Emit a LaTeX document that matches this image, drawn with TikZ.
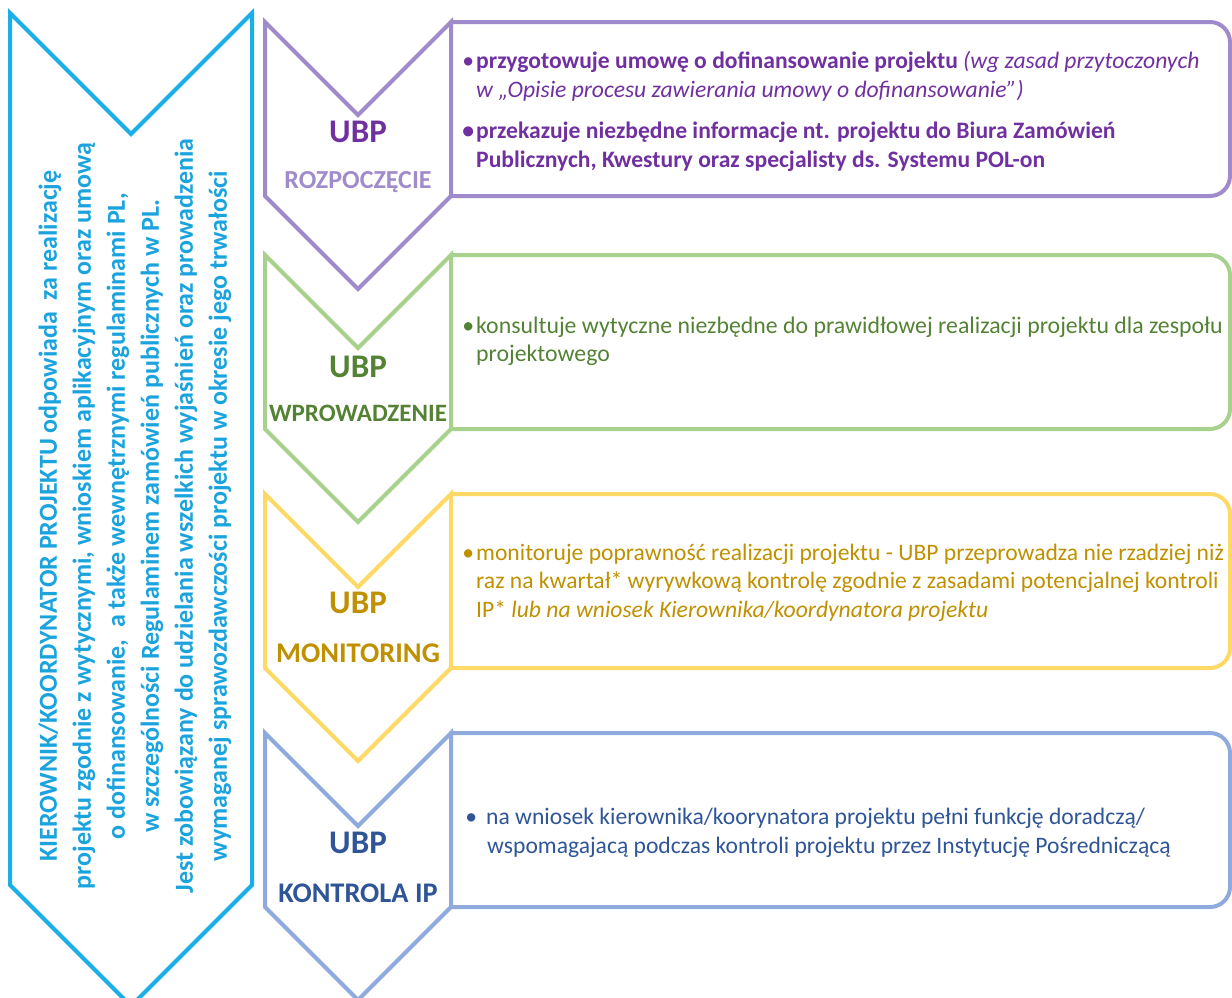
\documentclass[tikz,border=0pt]{standalone}
\usepackage{fontspec}
\setmainfont{Carlito}
\definecolor{purpleLine}{HTML}{9F8BCB}
\definecolor{purpleText}{HTML}{7030A0}
\definecolor{purpleSoft}{HTML}{A08CCB}
\definecolor{greenLine}{HTML}{A9D18E}
\definecolor{greenText}{HTML}{548235}
\definecolor{yellowLine}{HTML}{FFD966}
\definecolor{yellowText}{HTML}{BF9000}
\definecolor{blueLine}{HTML}{8FAADC}
\definecolor{blueText}{HTML}{2F5597}
\definecolor{cyanLine}{HTML}{1AAFE9}
\definecolor{cyanText}{HTML}{1BA3DE}
% one stage: box with rounded right corners + chevron on its left
% #1 = top y, #2 = line colour
\newcommand{\stageshape}[2]{%
  \draw[outline,#2] (451,#1) -- (1210,#1) arc (270:360:20)
        -- (1230,#1+154) arc (0:90:20) -- (451,#1+174);
  \draw[outline,#2] (265,#1) -- (358,#1+93) -- (451,#1) -- (451,#1+174)
        -- (358,#1+267) -- (265,#1+174) -- cycle;
}
\newcommand{\bodysize}{\fontsize{23.6}{28}\selectfont}
\begin{document}
\begin{tikzpicture}[x=1pt,y=-1pt,
  outline/.style={line width=4pt,line join=miter},
  ubp/.style={anchor=base,inner sep=0pt,font=\bfseries\fontsize{33}{33}\selectfont},
  stagename/.style={anchor=base,inner sep=0pt,font=\bfseries\fontsize{#1}{#1}\selectfont},
  body/.style={anchor=base west,inner sep=0pt,font=\bodysize},
]
\useasboundingbox (0,0) rectangle (1232,997);
\clip (0,0) rectangle (1232,997);

% left column: responsibilities of the project manager
\draw[outline,cyanLine] (10,13) -- (131,134) -- (252,13) -- (252,885)
      -- (131,1006) -- (10,885) -- cycle;
\node[rotate=90,align=center,inner sep=0pt,text=cyanText,
      font=\bfseries\fontsize{26}{34}\selectfont] (lead) at (135,516)
  {KIEROWNIK/KOORDYNATOR PROJEKTU odpowiada\ \ za realizację\\
   projektu zgodnie z wytycznymi, wnioskiem aplikacyjnym oraz umową\\
   o dofinansowanie,\ \ a także wewnętrznymi regulaminami PL,\\
   w szczególności Regulaminem zamówień publicznych w PL.\\
   Jest zobowiązany do udzielania wszelkich wyjaśnień oraz prowadzenia\\
   wymaganej sprawozdawczości projektu w okresie jego trwałości};

% stage outlines
\stageshape{22}{purpleLine}
\stageshape{255}{greenLine}
\stageshape{494}{yellowLine}
\stageshape{733}{blueLine}

% stage 1
\node[ubp,text=purpleText] (ubp1) at (358,142) {UBP};
\node[stagename=26,text=purpleSoft] (st1) at (358,188) {ROZPOCZĘCIE};
\node[body,text=purpleText] (p1) at (476,68)
  {\llap{•\hspace{2pt}}\textbf{przygotowuje umowę o dofinansowanie projektu} \textit{(wg zasad przytoczonych}};
\node[body,text=purpleText,font=\itshape\bodysize] (p2) at (476,97)
  {w „Opisie procesu zawierania umowy o dofinansowanie”)};
\node[body,text=purpleText,font=\bfseries\bodysize] (p3) at (476,138)
  {\llap{•\hspace{2pt}}przekazuje niezbędne informacje nt. projektu do Biura Zamówień};
\node[body,text=purpleText,font=\bfseries\bodysize] (p4) at (476,167)
  {Publicznych, Kwestury oraz specjalisty ds. Systemu POL-on};

% stage 2
\node[ubp,text=greenText] (ubp2) at (358,377) {UBP};
\node[stagename=25,text=greenText] (st2) at (358,421) {WPROWADZENIE};
\node[body,text=greenText,font=\fontsize{23.8}{28}\selectfont] (g1) at (476,333)
  {\llap{•\hspace{2pt}}konsultuje wytyczne niezbędne do prawidłowej realizacji projektu dla zespołu};
\node[body,text=greenText,font=\fontsize{23.8}{28}\selectfont] (g2) at (476,361) {projektowego};

% stage 3
\node[ubp,text=yellowText] (ubp3) at (358,613) {UBP};
\node[stagename=28.5,text=yellowText] (st3) at (358,662) {MONITORING};
\node[body,text=yellowText] (y1) at (476,560)
  {\llap{•\hspace{2pt}}monitoruje poprawność realizacji projektu - UBP przeprowadza nie rzadziej niż};
\node[body,text=yellowText] (y2) at (476,588)
  {raz na kwartał* wyrywkową kontrolę zgodnie z zasadami potencjalnej kontroli};
\node[body,text=yellowText] (y3) at (476,617)
  {IP* \textit{lub na wniosek Kierownika/koordynatora projektu}};

% stage 4
\node[ubp,text=blueText] (ubp4) at (358,853) {UBP};
\node[stagename=28.4,text=blueText] (st4) at (358,902) {KONTROLA IP};
\node[body,text=blueText] (b1) at (486,824)
  {\llap{•\hspace{9pt}}na wniosek kierownika/koorynatora projektu pełni funkcję doradczą/};
\node[body,text=blueText] (b2) at (487,853)
  {wspomagajacą podczas kontroli projektu przez Instytucję Pośredniczącą};
\end{tikzpicture}
\end{document}
